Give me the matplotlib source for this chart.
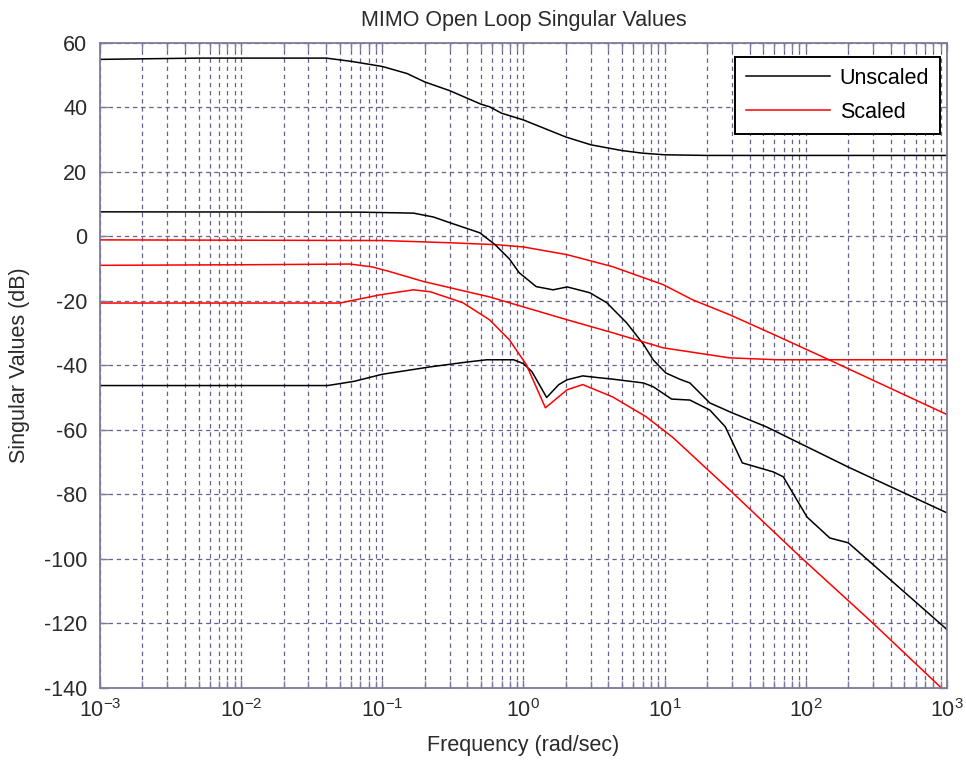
import math
import matplotlib
matplotlib.use("Agg")
import matplotlib.pyplot as plt
from matplotlib.ticker import FixedLocator, LogLocator, NullFormatter, FuncFormatter

plt.rcParams["font.family"] = ["Liberation Sans", "DejaVu Sans"]
plt.rcParams["mathtext.fontset"] = "custom"
plt.rcParams["mathtext.rm"] = "Liberation Sans"
plt.rcParams["mathtext.it"] = "Liberation Sans"
plt.rcParams["mathtext.default"] = "regular"
plt.rcParams["axes.unicode_minus"] = False

# ---- singular value traces (frequency in rad/sec, magnitude in dB) ----
unscaled_1_w = [0.001, 0.005, 0.04, 0.06, 0.1, 0.15, 0.2, 0.3, 0.5, 0.575, 0.7, 1.0,
                1.5, 2.0, 3.0, 5.0, 7.0, 10.0, 20.0, 1000.0]
unscaled_1_db = [54.9, 55.3, 55.3, 54.3, 52.7, 50.5, 47.9, 45.2, 41.0, 40.2, 38.2, 36.1,
                 33.0, 30.8, 28.4, 26.6, 25.8, 25.3, 25.1, 25.1]

unscaled_2_w = [0.001, 0.07, 0.166, 0.23, 0.302, 0.49, 0.63, 0.794, 0.933, 1.23, 1.62,
                2.04, 2.95, 3.89, 5.37, 7.08, 8.32, 10.2, 12.9, 15.1, 20.9, 30.2, 52.5,
                200.0, 1000.0]
unscaled_2_db = [7.6, 7.5, 7.2, 6.0, 4.2, 1.1, -2.6, -7.0, -11.3, -15.6, -16.6, -15.7,
                 -17.5, -20.6, -26.8, -33.5, -38.4, -42.4, -44.4, -45.5, -51.7, -54.8,
                 -59.1, -71.6, -85.8]

unscaled_3_w = [0.001, 0.041, 0.063, 0.1, 0.219, 0.398, 0.55, 0.851, 1.0, 1.148, 1.46,
                1.78, 2.04, 2.63, 3.47, 4.27, 7.08, 8.32, 11.2, 15.1, 20.9, 26.9, 35.5,
                58.9, 69.2, 102.0, 148.0, 200.0, 1000.0]
unscaled_3_db = [-46.3, -46.3, -45.0, -42.8, -40.5, -39.0, -38.3, -38.3, -39.5, -42.0,
                 -50.0, -46.0, -44.5, -43.3, -43.9, -44.3, -45.5, -46.7, -50.5, -50.8,
                 -53.9, -59.1, -70.3, -73.1, -74.6, -87.1, -93.6, -95.1, -122.0]

scaled_1_w = [0.001, 0.1, 0.302, 0.646, 1.0, 2.04, 4.27, 9.77, 15.8, 28.8, 63.1, 141.0,
              1000.0]
scaled_1_db = [-1.1, -1.3, -2.0, -2.6, -3.3, -5.7, -9.4, -15.0, -19.7, -24.3, -31.0,
               -38.0, -55.3]

scaled_2_w = [0.001, 0.0126, 0.059, 0.085, 0.112, 0.195, 0.575, 2.04, 4.27, 9.77, 28.8,
              63.1, 1000.0]
scaled_2_db = [-9.0, -8.8, -8.6, -9.5, -10.9, -14.0, -18.8, -25.9, -29.9, -34.6, -37.7,
               -38.3, -38.3]

scaled_3_w = [0.001, 0.05, 0.095, 0.166, 0.219, 0.372, 0.575, 0.794, 1.047, 1.43, 2.04,
              2.63, 4.27, 7.41, 11.5, 30.2, 91.2, 295.0, 891.0, 1000.0]
scaled_3_db = [-20.7, -20.7, -18.2, -16.6, -17.2, -20.6, -25.9, -32.1, -39.8, -53.2,
               -47.6, -46.0, -49.8, -56.0, -62.5, -79.5, -99.4, -119.8, -139.7, -142.0]

y_ticks = [-140, -120, -100, -80, -60, -40, -20, 0, 20, 40, 60]
x_decades = [1e-3, 1e-2, 1e-1, 1e0, 1e1, 1e2, 1e3]
legend_labels = ["Unscaled", "Scaled"]

frame_col = "#7c7c9c"
grid_col = "#62628a"
text_col = "#2a2a2a"
fs = 15.5

fig = plt.figure(figsize=(9.66, 7.67), dpi=100)
ax = fig.add_axes([0.1035, 0.1036, 0.8768, 0.8404])

lw = 1.1
ax.semilogx(unscaled_1_w, unscaled_1_db, color="black", lw=lw, label=legend_labels[0])
ax.semilogx(scaled_1_w, scaled_1_db, color="#ff0000", lw=lw, label=legend_labels[1])
ax.semilogx(unscaled_2_w, unscaled_2_db, color="black", lw=lw)
ax.semilogx(unscaled_3_w, unscaled_3_db, color="black", lw=lw)
ax.semilogx(scaled_2_w, scaled_2_db, color="#ff0000", lw=lw)
ax.semilogx(scaled_3_w, scaled_3_db, color="#ff0000", lw=lw)

ax.set_xlim(x_decades[0], x_decades[-1])
ax.set_ylim(y_ticks[0], y_ticks[-1])

ax.xaxis.set_major_locator(FixedLocator(x_decades))
ax.xaxis.set_minor_locator(LogLocator(base=10, subs=range(2, 10), numticks=20))
ax.xaxis.set_minor_formatter(NullFormatter())


def decade_label(v, pos):
    exp = int(round(math.log10(v)))
    return r"$10^{%d}$" % exp


ax.xaxis.set_major_formatter(FuncFormatter(decade_label))
ax.yaxis.set_major_locator(FixedLocator(y_ticks))

dash = (0, (3.5, 3.0))
ax.grid(True, which="major", axis="both", color=grid_col, lw=0.9, linestyle=dash)
ax.grid(True, which="minor", axis="x", color=grid_col, lw=0.9, linestyle=dash)
ax.set_axisbelow(True)

for s in ax.spines.values():
    s.set_color(frame_col)
    s.set_linewidth(1.3)

ax.tick_params(which="both", direction="in", top=True, right=True, colors=frame_col,
               labelcolor=text_col, labelsize=fs)
ax.tick_params(which="major", length=6, width=1.0)
ax.tick_params(which="minor", length=5, width=1.0)
ax.tick_params(axis="y", pad=9)
ax.tick_params(axis="x", pad=8)

ax.set_title("MIMO Open Loop Singular Values", fontsize=fs, color=text_col, pad=12)
ax.set_xlabel("Frequency (rad/sec)", fontsize=fs, color=text_col, labelpad=10)
ax.set_ylabel("Singular Values (dB)", fontsize=fs, color=text_col, labelpad=10)

leg = ax.legend(loc="upper right", bbox_to_anchor=(0.9917, 0.978), fontsize=fs,
                frameon=True, fancybox=False, edgecolor="black", framealpha=1.0,
                handlelength=3.9, handletextpad=0.45, labelspacing=0.6,
                borderpad=0.5, borderaxespad=0.0)
leg.get_frame().set_linewidth(1.4)

fig.savefig("out.png", dpi=100)
